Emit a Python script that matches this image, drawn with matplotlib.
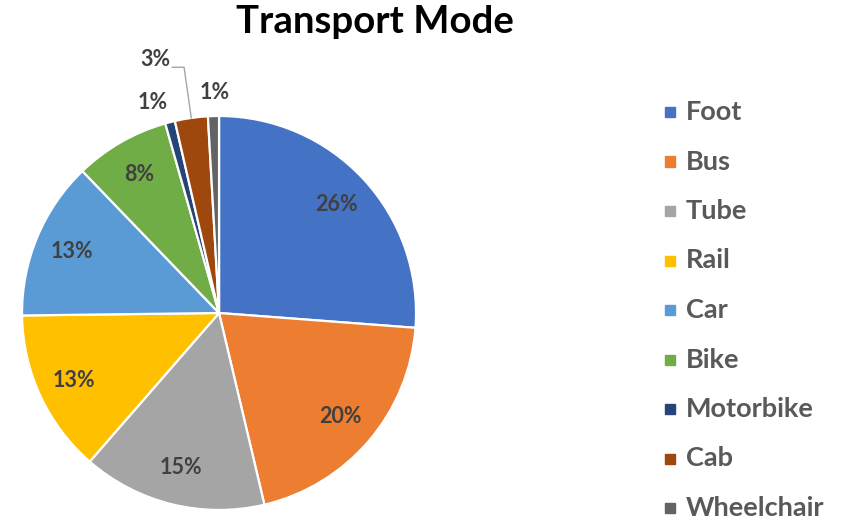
"""Transport mode pie chart."""
import numpy as np
import matplotlib.pyplot as plt
from matplotlib.patches import Rectangle

OUT = "out.png"

modes = ["Foot", "Bus", "Tube", "Rail", "Car", "Bike", "Motorbike", "Cab", "Wheelchair"]
shares = [26.2, 20.1, 15.1, 13.4, 13.0, 7.8, 0.8, 2.7, 0.9]
colors = ["#4472C4", "#ED7D31", "#A5A5A5", "#FFC000", "#5B9BD5",
          "#70AD47", "#264478", "#9E480E", "#636363"]

FONT = "Lato"
LABEL_C = "#404040"
LEGEND_C = "#595959"


def _polar(r, deg):
    a = np.deg2rad(deg)
    return r * np.cos(a), r * np.sin(a)


def render():
    fig = plt.figure(figsize=(8.48, 5.22), dpi=100)
    ax = fig.add_axes([0.026, 0.023, 0.4646, 0.7548])
    wedges, _ = ax.pie(shares, colors=colors, startangle=90, counterclock=False,
                       radius=1.0, wedgeprops=dict(edgecolor="white", linewidth=1.6))
    ax.set_xlim(-1, 1)
    ax.set_ylim(-1, 1)
    ax.set_aspect("equal")
    ax.axis("off")

    total = sum(shares)
    for i, (w, v) in enumerate(zip(wedges, shares)):
        mid = (w.theta1 + w.theta2) / 2
        txt = f"{round(100 * v / total):.0f}%"
        kw = dict(ha="center", va="center", fontsize=15.5, fontweight="bold",
                  color=LABEL_C, family=FONT)
        if modes[i] == "Cab":
            ex, ey = _polar(1.0, mid)
            bx, by = _polar(1.26, mid)
            ax.plot([bx - 0.06, bx, ex], [by, by, ey], color="#A5A5A5", lw=1.0,
                    clip_on=False)
            ax.text(bx - 0.07, by + 0.04, txt, **{**kw, "ha": "right"})
        elif v < 2:
            x, y = _polar(1.12, mid + (3.0 if modes[i] == "Motorbike" else -0.6))
            ax.text(x, y, txt, **kw)
        else:
            x, y = _polar(0.81, mid)
            ax.text(x, y, txt, **kw)

    fig.text(375 / 848, 0.958, "Transport Mode", ha="center", va="center",
             fontsize=27.6, fontweight="bold", family=FONT, color="black")

    # legend, drawn by hand to match row spacing
    y0, dy = 1 - 112 / 522, 49.5 / 522
    for i, (m, c) in enumerate(zip(modes, colors)):
        y = y0 - i * dy
        fig.patches.append(Rectangle((665 / 848, y - 5 / 522), 10 / 848, 10 / 522,
                                     color=c, transform=fig.transFigure))
        fig.text(686 / 848, y, m, ha="left", va="center", fontsize=19.5,
                 fontweight="bold", family=FONT, color=LEGEND_C)

    fig.savefig(OUT, dpi=100)
    plt.close(fig)


if __name__ == "__main__":
    render()
